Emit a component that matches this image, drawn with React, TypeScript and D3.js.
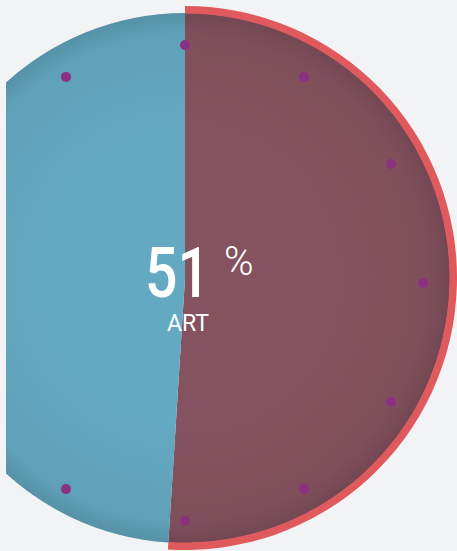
import React from "react";
import * as d3 from "d3";

const categories = ["ART", "OTHER"];
const values = [51, 49];
const sliceColors = ["#85535f", "#64a9c2"];
const markerHours = [0, 1, 2, 3, 4, 5, 6, 7, 8, 9, 10, 11];
const headline = "51";
const headlineUnit = "%";
const headlineLabel = "ART";

const W = 457;
const H = 551;
const cx = 185;
const cy = 278;
const R = 265;
const ringW = 7;

export default function App() {
  const pie = d3
    .pie<number>()
    .sort(null)
    .startAngle(0)
    .endAngle(2 * Math.PI)
    .value((d) => d);
  const arcs = pie(values);
  const arc = d3.arc<d3.PieArcDatum<number>>().innerRadius(0).outerRadius(R);
  const ringArc = d3
    .arc<d3.PieArcDatum<number>>()
    .innerRadius(R - 0.5)
    .outerRadius(R + ringW);

  const hourScale = d3.scaleLinear().domain([0, 12]).range([0, 2 * Math.PI]);
  const dotR = 238;
  const dotCy = cy + 5;

  return (
    <svg
      width={W}
      height={H}
      style={{ position: "absolute", left: 0, top: 0, display: "block" }}
    >
      <defs>
        <radialGradient id="vig" cx={0} cy={0} r={R} gradientUnits="userSpaceOnUse">
          <stop offset="0.55" stopColor="#000" stopOpacity={0} />
          <stop offset="0.92" stopColor="#000" stopOpacity={0.05} />
          <stop offset="1" stopColor="#000" stopOpacity={0.14} />
        </radialGradient>
        <clipPath id="clipL">
          <rect x={6} y={0} width={W} height={H} />
        </clipPath>
      </defs>
      <rect width={W} height={H} fill="#f2f3f5" />
      <g clipPath="url(#clipL)">
        <g transform={`translate(${cx},${cy})`}>
          {arcs.map((a, i) => (
            <path key={categories[i]} d={arc(a) || ""} fill={sliceColors[i]} />
          ))}
          <circle r={R} fill="url(#vig)" />
          <path d={ringArc(arcs[0]) || ""} fill="#e05a5d" />
        </g>
        <g>
          {markerHours.map((h) => {
            const a = hourScale(h);
            return (
              <circle
                key={h}
                cx={cx + dotR * Math.sin(a)}
                cy={dotCy - dotR * Math.cos(a)}
                r={5}
                fill="#8c3181"
              />
            );
          })}
        </g>
      </g>
      <g fill="#ffffff" fontFamily="Roboto, 'DejaVu Sans', sans-serif">
        <text
          x={145}
          y={297}
          fontSize={71}
          fontWeight={500}
          textLength={65}
          lengthAdjust="spacingAndGlyphs"
        >
          {headline}
        </text>
        <text x={224} y={275} fontSize={40} fontWeight={300}>
          {headlineUnit}
        </text>
        <text x={188} y={331} fontSize={23} textAnchor="middle">
          {headlineLabel}
        </text>
      </g>
    </svg>
  );
}
